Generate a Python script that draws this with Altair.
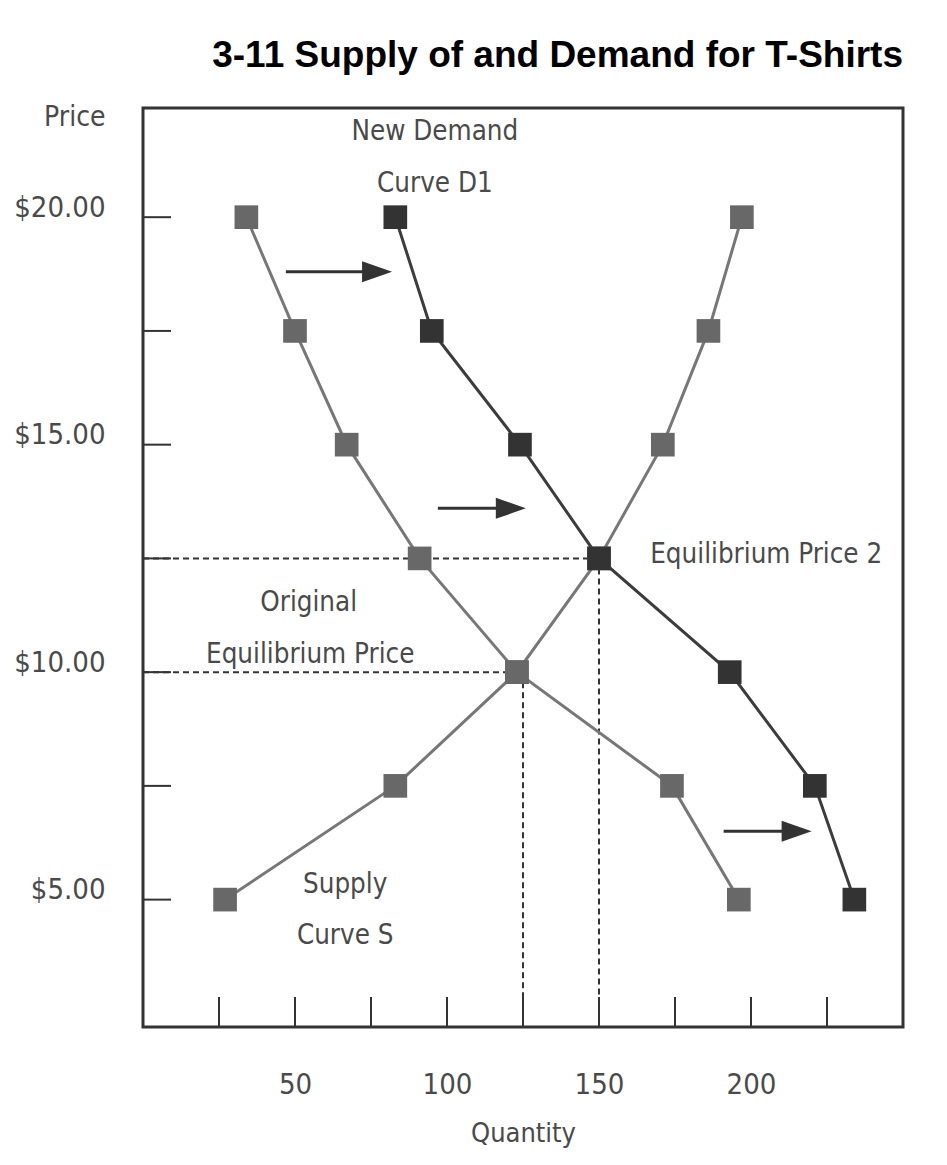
import altair as alt
import pandas as pd

# ---------------- data ----------------
prices = [20, 17.5, 15, 12.5, 10, 7.5, 5]
demand_orig_q = [34, 50, 67, 91, 123, 174, 196]
demand_new_q = [83, 95, 124, 150, 193, 221, 234]
supply_q = [197, 186, 171, 150, 123, 83, 27]

y_ticks = [5, 7.5, 10, 12.5, 15, 17.5, 20]
y_labels = [5, 10, 15, 20]
x_ticks = [25, 50, 75, 100, 125, 150, 175, 200, 225]
x_labels = [50, 100, 150, 200]

X_DOMAIN = [0, 250]
Y_DOMAIN = [2.2, 22.4]

# dashed guides: (q1, p1, q2, p2)
guide_q1 = [0, 0, 150, 125]
guide_p1 = [12.5, 10, 12.5, 10]
guide_q2 = [150, 123, 150, 125]
guide_p2 = [12.5, 10, Y_DOMAIN[0], Y_DOMAIN[0]]

# arrows: start q, end q, price
arrow_q1 = [47, 97, 191]
arrow_q2 = [82, 126, 220]
arrow_p = [18.8, 13.6, 6.5]

ann_text = ["New Demand", "Curve D1", "Equilibrium Price 2", "Original",
            "Equilibrium Price", "Supply", "Curve S"]
ann_q = [96, 96, 205, 54.5, 55, 66.5, 66.5]
ann_p = [21.87, 20.73, 12.57, 11.53, 10.37, 5.33, 4.19]

FONT = "DejaVu Sans Condensed, sans-serif"
W, H = 760, 919

series = pd.DataFrame(
    [{"q": q, "p": p, "s": "orig", "o": i} for i, (q, p) in enumerate(zip(demand_orig_q, prices))]
    + [{"q": q, "p": p, "s": "new", "o": i} for i, (q, p) in enumerate(zip(demand_new_q, prices))]
    + [{"q": q, "p": p, "s": "supply", "o": i} for i, (q, p) in enumerate(zip(supply_q, prices))]
)
guides = pd.DataFrame({"q1": guide_q1, "p1": guide_p1, "q2": guide_q2, "p2": guide_p2})
arrows = pd.DataFrame({"q1": arrow_q1, "q2": arrow_q2, "p": arrow_p})
arrows["qh"] = arrows["q2"] - 5
ann = pd.DataFrame({"t": ann_text, "q": ann_q, "p": ann_p})
yt = pd.DataFrame({"p": y_ticks})
xt = pd.DataFrame({"q": x_ticks})

xs = alt.Scale(domain=X_DOMAIN, nice=False, zero=False)
ys = alt.Scale(domain=Y_DOMAIN, nice=False, zero=False)

TXT = "#4a4a4a"
x_axis = alt.Axis(values=x_labels, ticks=False, domain=False, grid=False,
                  labelFont=FONT, labelFontSize=29, labelColor=TXT, labelPadding=43,
                  title="Quantity", titleFont=FONT, titleFontSize=27, titleFontWeight="normal",
                  titleColor=TXT, titlePadding=21)
y_axis = alt.Axis(values=y_labels, ticks=False, domain=False, grid=False,
                  labelFont=FONT, labelFontSize=29, labelColor=TXT, labelPadding=38,
                  labelOffset=-10,
                  labelExpr="'$' + format(datum.value, '.2f')",
                  title="Price", titleFont=FONT, titleFontSize=28, titleFontWeight="normal",
                  titleColor=TXT, titleAngle=0, titleAlign="right", titleBaseline="middle",
                  titleX=-38, titleY=9)

guide_layer = alt.Chart(guides).mark_rule(color="#333", strokeWidth=2, strokeDash=[6, 4]).encode(
    x=alt.X("q1:Q", scale=xs, axis=x_axis),
    y=alt.Y("p1:Q", scale=ys, axis=y_axis),
    x2="q2:Q", y2="p2:Q")

line_orig = alt.Chart(series[series.s != "new"]).mark_line(color="#777", strokeWidth=3).encode(
    x=alt.X("q:Q", scale=xs), y=alt.Y("p:Q", scale=ys), detail="s:N", order="o:Q")
line_new = alt.Chart(series[series.s == "new"]).mark_line(color="#3c3c3c", strokeWidth=3).encode(
    x=alt.X("q:Q", scale=xs), y=alt.Y("p:Q", scale=ys), order="o:Q")

pts_gray = alt.Chart(series[series.s != "new"]).mark_point(
    shape="square", filled=True, size=560, color="#686868", opacity=1).encode(
    x=alt.X("q:Q", scale=xs), y=alt.Y("p:Q", scale=ys))
pts_dark = alt.Chart(series[series.s == "new"]).mark_point(
    shape="square", filled=True, size=560, color="#333", opacity=1).encode(
    x=alt.X("q:Q", scale=xs), y=alt.Y("p:Q", scale=ys))

arrow_shaft = alt.Chart(arrows).mark_rule(color="#333", strokeWidth=3).encode(
    x=alt.X("q1:Q", scale=xs), x2="qh:Q", y=alt.Y("p:Q", scale=ys))
arrow_head = alt.Chart(arrows).mark_point(
    shape="M-1,-0.7L1,0L-1,0.7Z", filled=True, size=900, color="#333", opacity=1).encode(
    x=alt.X("qh:Q", scale=xs), y=alt.Y("p:Q", scale=ys))

ann_layer = alt.Chart(ann).mark_text(font=FONT, fontSize=27.5, color=TXT,
                                     align="center", baseline="middle").encode(
    x=alt.X("q:Q", scale=xs), y=alt.Y("p:Q", scale=ys), text="t:N")

ytick_layer = alt.Chart(yt).mark_rule(color="#333", strokeWidth=2).encode(
    y=alt.Y("p:Q", scale=ys), x=alt.value(0), x2=alt.value(28))
xtick_layer = alt.Chart(xt).mark_rule(color="#333", strokeWidth=2).encode(
    x=alt.X("q:Q", scale=xs), y=alt.value(H), y2=alt.value(H - 30))

chart = alt.layer(
    guide_layer, ytick_layer, xtick_layer, line_orig, line_new, pts_gray, pts_dark,
    arrow_shaft, arrow_head, ann_layer
).properties(
    width=W, height=H,
    title=alt.TitleParams("3-11  Supply of and Demand for T-Shirts", anchor="end",
                          font="Liberation Sans, Arial, sans-serif", fontSize=37,
                          fontWeight="bold", color="#000", offset=42, dy=43,
                          baseline="alphabetic"),
    autosize=alt.AutoSizeParams(type="none"),
    padding={"left": 135, "top": 100, "right": 30, "bottom": 128},
).configure_view(stroke="#333", strokeWidth=3)

chart.save("out.html", embed_options={"renderer": "svg", "actions": False})
